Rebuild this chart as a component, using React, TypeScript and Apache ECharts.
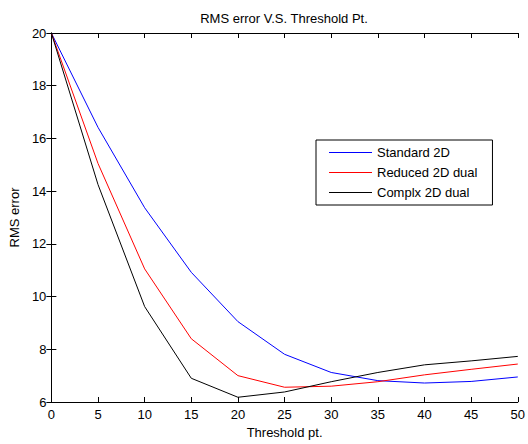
import React, { useEffect, useRef } from "react";
import * as echarts from "echarts";

const thresholds = [0, 5, 10, 15, 20, 25, 30, 35, 40, 45, 50];
const standard2D = [20, 16.42, 13.37, 10.92, 9.05, 7.81, 7.12, 6.81, 6.72, 6.78, 6.95];
const reduced2DDual = [20, 15.05, 11.05, 8.4, 7.0, 6.56, 6.6, 6.77, 7.03, 7.24, 7.44];
const complx2DDual = [20, 14.25, 9.62, 6.9, 6.18, 6.38, 6.77, 7.12, 7.41, 7.56, 7.73];
const seriesNames = ["Standard 2D", "Reduced 2D dual", "Complx 2D dual"];
const seriesColors = ["#0000ff", "#ff0000", "#000000"];

const FONT = "'Liberation Sans', Arial, Helvetica, sans-serif";
const FS = 13;

export default function App() {
  const ref = useRef<HTMLDivElement>(null);
  useEffect(() => {
    if (!ref.current) return;
    const chart = echarts.init(ref.current, undefined, { renderer: "svg" });
    const values = [standard2D, reduced2DDual, complx2DDual];
    const axisLine = { show: true, lineStyle: { color: "#000", width: 1 } };
    const tick = { show: true, inside: true, length: 5, lineStyle: { color: "#000" } };
    chart.setOption({
      animation: false,
      backgroundColor: "#fff",
      textStyle: { fontFamily: FONT },
      grid: { left: 51, top: 33, width: 471, height: 370, containLabel: false },
      graphic: [
        {
          type: "text",
          x: 284,
          y: 18,
          style: {
            text: "RMS error V.S. Threshold Pt.",
            fill: "#000",
            font: `${FS}px ${FONT}`,
            textAlign: "center",
            textVerticalAlign: "middle",
          },
        },
      ],
      legend: {
        orient: "vertical",
        left: 316,
        top: 140,
        data: seriesNames,
        icon: "rect",
        itemWidth: 43,
        itemHeight: 1,
        itemGap: 5,
        padding: [5, 15, 5, 13],
        borderColor: "#000",
        borderWidth: 1,
        backgroundColor: "#fff",
        textStyle: { color: "#000", fontSize: FS, fontFamily: FONT, lineHeight: 15 },
      },
      xAxis: [
        {
          type: "value",
          min: 0,
          max: 50,
          interval: 5,
          position: "bottom",
          name: "Threshold pt.",
          nameLocation: "middle",
          nameGap: 24,
          nameTextStyle: { color: "#000", fontSize: FS, fontFamily: FONT },
          axisLine,
          axisTick: tick,
          axisLabel: { color: "#000", fontSize: FS, margin: 6, fontFamily: FONT },
          splitLine: { show: false },
        },
        {
          type: "value",
          min: 0,
          max: 50,
          interval: 5,
          position: "top",
          axisLine,
          axisTick: tick,
          axisLabel: { show: false },
          splitLine: { show: false },
        },
      ],
      yAxis: [
        {
          type: "value",
          min: 6,
          max: 20,
          interval: 2,
          position: "left",
          name: "RMS error",
          nameLocation: "middle",
          nameGap: 28,
          nameTextStyle: { color: "#000", fontSize: FS, fontFamily: FONT },
          axisLine,
          axisTick: tick,
          axisLabel: { color: "#000", fontSize: FS, margin: 5, fontFamily: FONT },
          splitLine: { show: false },
        },
        {
          type: "value",
          min: 6,
          max: 20,
          interval: 2,
          position: "right",
          axisLine,
          axisTick: tick,
          axisLabel: { show: false },
          splitLine: { show: false },
        },
      ],
      series: seriesNames.map((name, i) => ({
        name,
        type: "line",
        data: thresholds.map((t, j) => [t, values[i][j]]),
        symbol: "none",
        color: seriesColors[i],
        lineStyle: { color: seriesColors[i], width: 1 },
        xAxisIndex: 0,
        yAxisIndex: 0,
      })),
    });
    return () => chart.dispose();
  }, []);
  return (
    <div
      ref={ref}
      style={{ position: "fixed", left: 0, top: 0, width: 528, height: 444 }}
    />
  );
}
